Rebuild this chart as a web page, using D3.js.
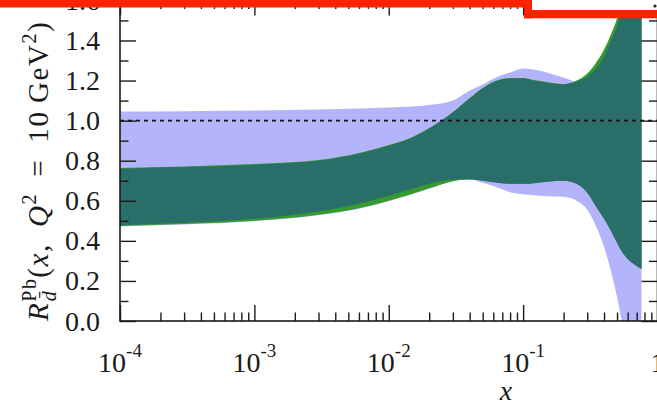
<!DOCTYPE html>
<html>
<head>
<meta charset="utf-8">
<script src="https://cdn.jsdelivr.net/npm/d3@7"></script>
<style>
  html, body { margin: 0; padding: 0; background: #fff; }
  svg { display: block; }
  text { font-family: "Liberation Serif", "DejaVu Serif", serif; fill: #1a1a1a; }
</style>
</head>
<body>
<svg id="chart" width="657" height="405"></svg>
<script>
// Nuclear modification ratio for the d-bar distribution in Pb at Q^2 = 10 GeV^2
const xValues = [1e-4, 3e-4, 1e-3, 3e-3, 6e-3, 0.01, 0.015, 0.02, 0.03, 0.04, 0.05, 0.065, 0.08, 0.1,
                 0.12, 0.15, 0.2, 0.25, 0.3, 0.35, 0.4, 0.45, 0.5, 0.55, 0.6, 0.65, 0.7, 0.76];

// wide (lavender) uncertainty band
const purpleLow  = [0.472, 0.482, 0.498, 0.528, 0.56, 0.598, 0.633, 0.66, 0.698, 0.705, 0.69, 0.665, 0.643, 0.632,
                    0.627, 0.623, 0.62, 0.60, 0.555, 0.47, 0.37, 0.25, 0.12, -0.02, -0.12, -0.2, -0.28, -0.35];
const purpleHigh = [1.045, 1.047, 1.05, 1.055, 1.06, 1.065, 1.07, 1.078, 1.10, 1.15, 1.18, 1.22, 1.24, 1.26,
                    1.255, 1.24, 1.215, 1.195, 1.20, 1.24, 1.30, 1.37, 1.45, 1.55, 1.64, 1.73, 1.83, 1.93];

// green band
const greenLow  = [0.474, 0.484, 0.50, 0.53, 0.563, 0.60, 0.635, 0.662, 0.698, 0.707, 0.70, 0.69, 0.685, 0.685,
                   0.688, 0.695, 0.70, 0.685, 0.64, 0.57, 0.51, 0.45, 0.39, 0.34, 0.31, 0.29, 0.275, 0.26];
const greenHigh = [0.763, 0.771, 0.783, 0.803, 0.838, 0.878, 0.918, 0.963, 1.043, 1.113, 1.163, 1.203, 1.213, 1.213,
                   1.203, 1.193, 1.183, 1.20, 1.235, 1.29, 1.355, 1.43, 1.51, 1.61, 1.70, 1.79, 1.88, 1.98];

// teal band
const tealLow  = [0.478, 0.49, 0.51, 0.547, 0.585, 0.625, 0.66, 0.685, 0.706, 0.707, 0.70, 0.69, 0.685, 0.685,
                  0.688, 0.695, 0.70, 0.685, 0.64, 0.57, 0.51, 0.45, 0.39, 0.34, 0.31, 0.29, 0.275, 0.26];
const tealHigh = [0.76, 0.768, 0.78, 0.80, 0.835, 0.875, 0.915, 0.96, 1.04, 1.11, 1.16, 1.20, 1.21, 1.21,
                  1.20, 1.19, 1.18, 1.195, 1.22, 1.26, 1.32, 1.40, 1.47, 1.57, 1.66, 1.75, 1.85, 1.95];

const yTickValues = [0.0, 0.2, 0.4, 0.6, 0.8, 1.0, 1.2, 1.4, 1.6];
const yTickLabels = ["0.0", "0.2", "0.4", "0.6", "0.8", "1.0", "1.2", "1.4", "1.6"];
const xTickValues = [1e-4, 1e-3, 1e-2, 1e-1, 1];
const xTickBases  = ["10", "10", "10", "10", "1"];
const xTickExps   = ["-4", "-3", "-2", "-1", ""];

const svg = d3.select("#chart");
const mLeft = 120, mRight = 657.5, mTop = 0.4, mBottom = 321;

const x = d3.scaleLog().domain([1e-4, 1]).range([mLeft, mRight]);
const y = d3.scaleLinear().domain([0, 1.6]).range([mBottom, mTop]);

svg.append("defs").append("clipPath").attr("id", "plotClip")
  .append("rect").attr("x", mLeft).attr("y", mTop).attr("width", mRight - mLeft).attr("height", mBottom - mTop);

const plot = svg.append("g").attr("clip-path", "url(#plotClip)");

function band(lo, hi, color) {
  const rows = xValues.map((v, i) => ({ x: v, lo: lo[i], hi: hi[i] }));
  const area = d3.area()
    .x(d => x(d.x))
    .y0(d => y(d.lo))
    .y1(d => y(d.hi))
    .curve(d3.curveMonotoneX);
  plot.append("path").datum(rows).attr("d", area).attr("fill", color);
}

band(purpleLow, purpleHigh, "#b4b4fd");
band(greenLow, greenHigh, "#369b2d");
band(tealLow, tealHigh, "#2a6e69");

// reference line at unity
plot.append("line")
  .attr("x1", mLeft).attr("x2", mRight)
  .attr("y1", y(1)).attr("y2", y(1))
  .attr("stroke", "#111").attr("stroke-width", 1.6)
  .attr("stroke-dasharray", "4,4");

// ticks pointing inward on all four sides
const majorLen = 16, minorLen = 8.5;
const yMinor = d3.range(1, 16, 2).map(k => k / 10);
const xMinor = [];
[1e-4, 1e-3, 1e-2, 1e-1].forEach(d => { for (let m = 2; m <= 9; m++) xMinor.push(d * m); });

const tickGroups = [
  [d3.axisRight(y).tickValues(yTickValues).tickSize(majorLen), `translate(${mLeft},0)`],
  [d3.axisRight(y).tickValues(yMinor).tickSize(minorLen), `translate(${mLeft},0)`],
  [d3.axisLeft(y).tickValues(yTickValues).tickSize(majorLen), `translate(${mRight},0)`],
  [d3.axisLeft(y).tickValues(yMinor).tickSize(minorLen), `translate(${mRight},0)`],
  [d3.axisTop(x).tickValues(xTickValues).tickSize(majorLen), `translate(0,${mBottom})`],
  [d3.axisTop(x).tickValues(xMinor).tickSize(minorLen), `translate(0,${mBottom})`],
  [d3.axisBottom(x).tickValues(xTickValues).tickSize(majorLen - 1), `translate(0,${mTop})`],
  [d3.axisBottom(x).tickValues(xMinor).tickSize(minorLen), `translate(0,${mTop})`]
];
tickGroups.forEach(([axis, tr]) => {
  const g = svg.append("g").attr("transform", tr).call(axis.tickFormat(""));
  g.select("path.domain").remove();
  g.selectAll("line").attr("stroke", "#1a1a1a").attr("stroke-width", 1.4);
});

// frame
svg.append("rect").attr("x", mLeft).attr("y", mTop).attr("width", mRight - mLeft).attr("height", mBottom - mTop)
  .attr("fill", "none").attr("stroke", "#1a1a1a").attr("stroke-width", 1.6);

// y tick labels
svg.append("g").selectAll("text").data(yTickValues).join("text")
  .attr("x", 100).attr("y", d => y(d))
  .attr("text-anchor", "end").attr("dominant-baseline", "central")
  .attr("font-size", 28)
  .text((d, i) => yTickLabels[i]);

// x tick labels with superscript exponents
const xl = svg.append("g").selectAll("text").data(xTickValues).join("text")
  .attr("x", d => x(d)).attr("y", 372)
  .attr("text-anchor", "middle")
  .attr("font-size", 28);
xl.append("tspan").text((d, i) => xTickBases[i]);
xl.append("tspan").attr("dy", -15).attr("font-size", 19).text((d, i) => xTickExps[i]);

// axis titles
svg.append("text").attr("x", 506).attr("y", 400).attr("text-anchor", "middle")
  .attr("font-size", 28).attr("font-style", "italic").text("x");

const yt = svg.append("text").attr("transform", "translate(48,321) rotate(-90)")
  .attr("font-size", 29).attr("letter-spacing", 1.6).attr("text-anchor", "start");
yt.append("tspan").attr("font-style", "italic").text("R");
yt.append("tspan").attr("font-size", 20).attr("dy", -12).text("Pb");
yt.append("tspan").attr("font-size", 20).attr("font-style", "italic").attr("dx", -24).attr("dy", 20).text("d\u0304");
yt.append("tspan").attr("dx", 12).attr("dy", -8).text("(");
yt.append("tspan").attr("font-style", "italic").text("x");
yt.append("tspan").text(",\u2002");
yt.append("tspan").attr("font-style", "italic").text("Q");
yt.append("tspan").attr("font-size", 20).attr("dy", -12).text("2");
yt.append("tspan").attr("dy", 12).text("\u2002=\u200210\u2009GeV");
yt.append("tspan").attr("font-size", 20).attr("dy", -12).text("2");
yt.append("tspan").attr("dy", 12).text(")");

// red highlight markings along the top edge
const red = "#fe2200";
svg.append("rect").attr("x", 0).attr("y", 0).attr("width", 532).attr("height", 7.5).attr("fill", red);
svg.append("rect").attr("x", 532).attr("y", 0).attr("width", 125).attr("height", 10).attr("fill", "#fff");
svg.append("rect").attr("x", 524).attr("y", 0).attr("width", 8).attr("height", 18.3).attr("fill", red);
svg.append("rect").attr("x", 524).attr("y", 10).attr("width", 133).attr("height", 8.3).attr("fill", red);
svg.append("circle").attr("cx", 655).attr("cy", 6).attr("r", 1.6).attr("fill", "#222");
</script>
</body>
</html>
